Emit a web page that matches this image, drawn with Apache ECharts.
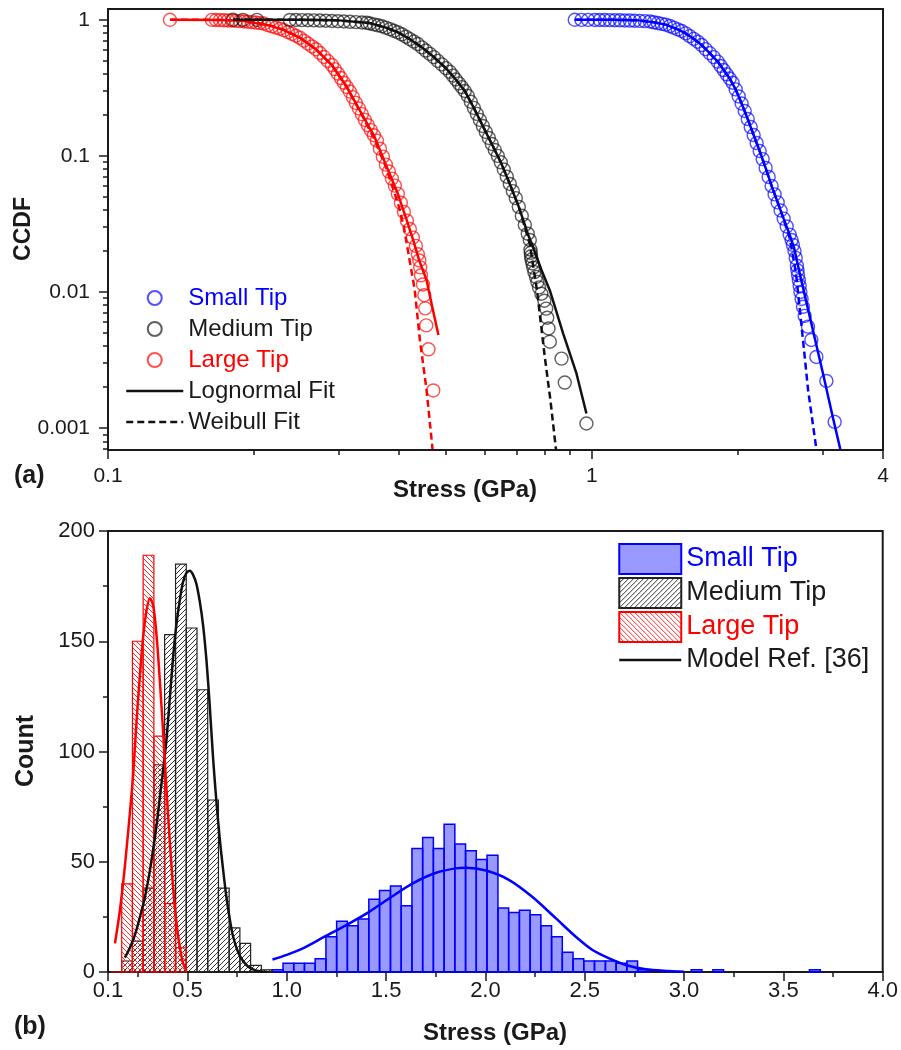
<!DOCTYPE html>
<html><head><meta charset="utf-8">
<script src="https://cdn.jsdelivr.net/npm/echarts@6/dist/echarts.min.js"></script>
<style>html,body{margin:0;padding:0;background:#fff}#c{width:901px;height:1050px}</style>
</head><body><div id="c"></div>
<script>
// ---------- Panel (a): CCDF ----------
const stressTicksTop = [0.1, 1, 4];
const stressMinorTicksTop = [0.2, 0.3, 0.4, 0.5, 0.6, 0.7, 0.8, 0.9, 2, 3];
const ccdfTicks = [0.001, 0.01, 0.1, 1];
const ccdfMinorTicks = [0.0007,0.0008,0.0009,0.002,0.003,0.004,0.005,0.006,0.007,0.008,0.009,0.02,0.03,0.04,0.05,0.06,0.07,0.08,0.09,0.2,0.3,0.4,0.5,0.6,0.7,0.8,0.9];

const largeX = [0.1343,0.1640,0.1672,0.1704,0.1737,0.1770,0.1804,0.1838,0.1874,0.1910,0.1946,0.1984,0.2022,0.2060,0.2100,0.2141,0.2182,0.2224,0.2267,0.2310,0.2355,0.2400,0.2446,0.2493,0.2541,0.2590,0.2640,0.2691,0.2742,0.2795,0.2848,0.2903,0.2944,0.2987,0.3030,0.3073,0.3118,0.3162,0.3208,0.3254,0.3301,0.3348,0.3396,0.3445,0.3494,0.3545,0.3596,0.3648,0.3700,0.3753,0.3807,0.3862,0.3917,0.3974,0.4031,0.4089,0.4148,0.4207,0.4268,0.4329,0.4370,0.4400,0.4420,0.4437,0.4479,0.4506,0.4527,0.4548,0.4597,0.4703];
const largeY = [1.0,0.998,0.996,0.994,0.991,0.988,0.985,0.981,0.977,0.972,0.967,0.961,0.954,0.947,0.938,0.913,0.894,0.876,0.859,0.840,0.813,0.788,0.763,0.737,0.702,0.669,0.637,0.607,0.570,0.533,0.498,0.465,0.434,0.402,0.373,0.345,0.3205,0.297,0.270,0.245,0.223,0.2025,0.184,0.168,0.1545,0.1417,0.1294,0.1129,0.0987,0.0862,0.0767,0.0681,0.0605,0.0526,0.0452,0.0388,0.0334,0.0290,0.0251,0.0218,0.01894,0.01705,0.01515,0.01326,0.01136,0.00947,0.00758,0.00568,0.00379,0.00189];

const mediumX = [0.1813,0.1901,0.2032,0.2377,0.2446,0.2517,0.2590,0.2665,0.2742,0.2821,0.2903,0.2987,0.3073,0.3162,0.3254,0.3348,0.3428,0.3478,0.3545,0.3613,0.3683,0.3753,0.3825,0.3899,0.3974,0.4050,0.4128,0.4207,0.4288,0.4370,0.4455,0.4539,0.4627,0.4716,0.4806,0.4899,0.4993,0.5089,0.5163,0.5236,0.5312,0.5388,0.5465,0.5544,0.5623,0.5705,0.5787,0.5870,0.5954,0.6039,0.6126,0.6214,0.6303,0.6394,0.6486,0.6579,0.6674,0.6770,0.6867,0.6966,0.7066,0.7168,0.7271,0.7375,0.7446,0.7470,0.7480,0.7490,0.7505,0.7540,0.7570,0.7610,0.7670,0.7720,0.7780,0.7870,0.7980,0.8050,0.8090,0.8140,0.8190,0.8660,0.8795,0.9750];
const mediumY = [1.0,0.999,0.998,0.997,0.996,0.994,0.992,0.990,0.987,0.984,0.980,0.976,0.971,0.966,0.961,0.955,0.950,0.939,0.925,0.911,0.896,0.875,0.853,0.830,0.809,0.782,0.751,0.721,0.692,0.663,0.627,0.594,0.562,0.532,0.499,0.470,0.441,0.4147,0.389,0.364,0.341,0.320,0.2996,0.2766,0.2498,0.2254,0.2036,0.1839,0.1659,0.1499,0.1354,0.1223,0.1105,0.1000,0.0897,0.0794,0.0703,0.0622,0.0551,0.0489,0.0422,0.0363,0.0311,0.0268,0.0241,0.0205,0.0194,0.0183,0.0173,0.0162,0.0151,0.0140,0.0129,0.01187,0.0108,0.0097,0.00863,0.00755,0.00647,0.00539,0.00431,0.00324,0.00216,0.00108];

const smallX = [0.9224,0.9522,0.9826,1.0144,1.0387,1.0638,1.0894,1.1157,1.1427,1.1702,1.1983,1.2272,1.2570,1.2873,1.3183,1.343,1.369,1.395,1.422,1.450,1.477,1.506,1.535,1.564,1.594,1.625,1.656,1.688,1.720,1.753,1.787,1.821,1.847,1.874,1.901,1.928,1.956,1.984,2.013,2.041,2.071,2.101,2.131,2.161,2.192,2.224,2.256,2.288,2.321,2.354,2.388,2.423,2.457,2.493,2.529,2.565,2.589,2.605,2.625,2.640,2.655,2.662,2.670,2.680,2.690,2.700,2.715,2.733,2.755,2.799,2.844,2.913,3.055,3.178];
const smallY = [1.0,0.999,0.998,0.997,0.996,0.995,0.994,0.993,0.991,0.989,0.987,0.984,0.981,0.978,0.9716,0.958,0.946,0.933,0.921,0.899,0.875,0.850,0.827,0.794,0.758,0.724,0.690,0.652,0.609,0.569,0.532,0.493,0.458,0.427,0.3976,0.3702,0.3447,0.3078,0.2733,0.2424,0.2136,0.1865,0.1628,0.1422,0.1242,0.1085,0.0947,0.0815,0.0700,0.0601,0.0521,0.0455,0.0397,0.0346,0.0303,0.0264,0.0241,0.0222,0.0200,0.0178,0.0156,0.0144,0.0133,0.0122,0.0111,0.0100,0.00889,0.00778,0.00667,0.00556,0.00444,0.00333,0.00222,0.00111];

const largeLognormal = [[0.1343,1.0],[0.17,0.998],[0.19,0.985],[0.2141,0.913],[0.2310,0.840],[0.2493,0.737],[0.2691,0.607],[0.2903,0.465],[0.3118,0.3205],[0.3348,0.2025],[0.3545,0.1417],[0.3753,0.0862],[0.3974,0.0526],[0.4148,0.0334],[0.4273,0.0241],[0.44,0.0170],[0.4555,0.01225],[0.468,0.0078],[0.482,0.00483]];
const largeWeibull = [[0.1343,1.0],[0.17,0.998],[0.19,0.985],[0.2141,0.92],[0.2310,0.845],[0.2493,0.74],[0.2691,0.607],[0.2903,0.462],[0.3118,0.318],[0.3348,0.200],[0.3545,0.135],[0.3753,0.083],[0.3974,0.045],[0.4089,0.030],[0.4166,0.0204],[0.4305,0.0104],[0.4413,0.00444],[0.4555,0.00191],[0.4687,0.0007]];
const mediumLognormal = [[0.1813,1.0],[0.25,0.9995],[0.30,0.99],[0.3478,0.945],[0.3753,0.876],[0.3974,0.81],[0.4207,0.72],[0.4455,0.627],[0.4716,0.532],[0.4993,0.441],[0.5236,0.364],[0.5465,0.30],[0.5705,0.2254],[0.5954,0.1659],[0.6214,0.1223],[0.6486,0.0897],[0.6770,0.0622],[0.7066,0.0422],[0.7375,0.0268],[0.7566,0.0212],[0.7872,0.0145],[0.8188,0.0103],[0.8725,0.00497],[0.9298,0.00252],[0.975,0.00128]];
const mediumWeibull = [[0.1813,1.0],[0.25,0.9995],[0.30,0.99],[0.3478,0.945],[0.3753,0.876],[0.3974,0.81],[0.4207,0.72],[0.4455,0.627],[0.4716,0.532],[0.4993,0.441],[0.5236,0.364],[0.5465,0.30],[0.5705,0.2254],[0.5954,0.1659],[0.6214,0.1223],[0.6486,0.0897],[0.6770,0.0622],[0.7066,0.0422],[0.7271,0.030],[0.7446,0.0225],[0.7705,0.0103],[0.7996,0.00334],[0.8215,0.0016],[0.8433,0.0007]];
const smallLognormal = [[0.9224,1.0],[1.1,0.9995],[1.25,0.99],[1.343,0.958],[1.422,0.921],[1.506,0.85],[1.564,0.794],[1.625,0.724],[1.688,0.652],[1.753,0.569],[1.821,0.493],[1.874,0.427],[1.928,0.3702],[1.984,0.3078],[2.041,0.2424],[2.101,0.1865],[2.161,0.1422],[2.224,0.1085],[2.288,0.0815],[2.354,0.0601],[2.423,0.0455],[2.493,0.0346],[2.565,0.0264],[2.62,0.0210],[2.691,0.0137],[2.844,0.00588],[3.006,0.00252],[3.152,0.00119],[3.264,0.0007]];
const smallWeibull = [[0.9224,1.0],[1.1,0.9995],[1.25,0.99],[1.343,0.958],[1.422,0.921],[1.506,0.85],[1.564,0.794],[1.625,0.724],[1.688,0.652],[1.753,0.569],[1.821,0.493],[1.874,0.427],[1.928,0.3702],[1.984,0.3078],[2.041,0.2424],[2.101,0.1865],[2.161,0.1422],[2.224,0.1085],[2.288,0.0815],[2.354,0.0601],[2.423,0.0455],[2.493,0.0340],[2.565,0.0250],[2.644,0.0137],[2.733,0.00445],[2.80,0.00191],[2.913,0.0007]];

// ---------- Panel (b): histograms ----------
const stressTicksBottom = [0.1, 0.5, 1.0, 1.5, 2.0, 2.5, 3.0, 3.5, 4.0];
const stressMinorTicksBottom = [0.25, 0.75, 1.25, 1.75, 2.25, 2.75, 3.25, 3.75];
const binEdges = [0.115,0.169,0.223,0.277,0.331,0.385,0.440,0.494,0.548,0.602,0.656,0.710,0.764,0.818,0.872,0.926,0.981,1.035,1.089,1.143,1.197,1.251,1.305,1.359,1.413,1.467,1.522,1.576,1.630,1.684,1.738,1.792,1.846,1.900,1.954,2.008,2.063,2.117,2.171,2.225,2.279,2.333,2.387,2.441,2.495,2.549,2.604,2.658,2.712,2.766,2.820,2.874,2.928,2.982,3.036,3.090,3.145,3.199,3.253,3.307,3.361,3.415,3.469,3.523,3.577,3.631,3.686,3.740];
const largeCounts = [0,40,150,189,107,31,11];
const mediumCounts = [null,5,14,38,94,153,185,156,128,78,38,20,13,3,1];
const smallCounts = [null,null,null,null,null,null,null,null,null,null,null,null,null,null,null,1,4,4,4,6,16,23,21,24,33,37,39,30,56,61,56,67,58,55,51,53,29,27,28,26,21,16,9,6,5,5,5,4,5,1,null,null,null,null,1,null,1,null,null,null,null,null,null,null,null,1];

const smallModel = [[0.928,5.7],[1.0,7.8],[1.081,10.7],[1.19,16],[1.30,21.3],[1.417,27.4],[1.526,34],[1.634,40.2],[1.752,45],[1.85,47],[1.902,47.3],[2.003,46],[2.12,41.7],[2.237,34],[2.355,24.3],[2.455,16],[2.539,10],[2.623,6.2],[2.706,3.2],[2.807,1.2],[2.924,0.4],[3.0,0.1]];
const mediumModel = [[0.185,6.5],[0.21,11],[0.236,17],[0.261,25],[0.286,34],[0.311,46],[0.345,67],[0.362,80],[0.378,92],[0.395,106],[0.412,125],[0.428,143],[0.445,158],[0.462,169],[0.478,177],[0.495,181],[0.512,182],[0.529,180],[0.545,176],[0.562,168],[0.579,157],[0.596,141],[0.612,121],[0.629,97],[0.646,77],[0.663,60],[0.68,46],[0.696,34],[0.713,24],[0.73,16],[0.755,9],[0.78,5],[0.805,2.5],[0.83,1.2],[0.86,0.4],[0.9,0]];
const largeModel = [[0.135,13],[0.16,28],[0.185,48],[0.21,72],[0.227,90],[0.244,114],[0.261,135],[0.277,152],[0.294,164],[0.311,169.5],[0.328,166],[0.345,152],[0.361,132],[0.378,108],[0.395,82],[0.412,58],[0.428,38],[0.445,22],[0.462,11],[0.478,4],[0.495,0.8]];

// ---------- build ----------
const FONT = '"Liberation Sans", Arial, Helvetica, sans-serif';
const INK = '#1a1a1a';
function zip(xs, ys) { return xs.map((x, i) => [x, ys[i]]); }
function hatch(color, p, dir) {
  const c = document.createElement('canvas'); c.width = p; c.height = p;
  const g = c.getContext('2d'); g.strokeStyle = color; g.lineWidth = 1;
  g.beginPath();
  if (dir === '/') { g.moveTo(0, p); g.lineTo(p, 0); g.moveTo(-1, 1); g.lineTo(1, -1); g.moveTo(p - 1, p + 1); g.lineTo(p + 1, p - 1); }
  else { g.moveTo(0, 0); g.lineTo(p, p); g.moveTo(p - 1, -1); g.lineTo(p + 1, 1); g.moveTo(-1, p - 1); g.lineTo(1, p + 1); }
  g.stroke();
  return { image: c, repeat: 'repeat' };
}
const blackHatch = hatch('#333', 5, '/');
const redHatch = hatch('#ff2a2a', 5, '\\');

function histData(counts) {
  const out = [];
  counts.forEach((c, i) => { if (c !== null && c !== undefined) out.push([binEdges[i], binEdges[i + 1], c]); });
  return out;
}
function histSeries(name, counts, fill, stroke, lw) {
  return {
    type: 'custom', name, xAxisIndex: 2, yAxisIndex: 2, data: histData(counts),
    encode: { x: [0, 1], y: 2 },
    itemStyle: { color: fill, borderColor: stroke, borderWidth: lw },
    renderItem(params, api) {
      const p0 = api.coord([api.value(0), api.value(2)]);
      const p1 = api.coord([api.value(1), 0]);
      return { type: 'rect', shape: { x: p0[0], y: p0[1], width: p1[0] - p0[0], height: p1[1] - p0[1] },
        style: { fill: fill, stroke: stroke, lineWidth: lw } };
    }
  };
}
function ring(name, xs, ys, col) {
  return { type: 'scatter', name, xAxisIndex: 0, yAxisIndex: 0, data: zip(xs, ys), symbol: 'circle', symbolSize: 13,
    itemStyle: { color: 'rgba(0,0,0,0)', borderColor: col, borderWidth: 1.4 }, z: 2 };
}
function fit(name, data, col, dashed) {
  return { type: 'line', name, xAxisIndex: 0, yAxisIndex: 0, data, symbol: 'none',
    lineStyle: { color: col, width: 2.5, type: dashed ? [7, 4] : 'solid' }, itemStyle: { color: col }, z: 3 };
}
function model(name, data, col) {
  return { type: 'line', name, xAxisIndex: 2, yAxisIndex: 2, data, symbol: 'none', smooth: 0.3,
    lineStyle: { color: col, width: 2.5 }, itemStyle: { color: col }, z: 4 };
}
const axLine = { show: true, lineStyle: { color: INK, width: 2 } };
const tickStyle = { color: INK, width: 1.5 };
const lbl = (size, margin, extra) => Object.assign({ fontSize: size, color: INK, fontFamily: FONT, margin }, extra || {});
const noSymbol = { opacity: 0 };

const option = {
  animation: false,
  backgroundColor: '#fff',
  grid: [
    { left: 108, top: 9, right: 18, height: 441, show: true, borderColor: INK, borderWidth: 2 },
    { left: 108, top: 531, right: 18, height: 441, show: true, borderColor: INK, borderWidth: 2 }
  ],
  xAxis: [
    { type: 'log', gridIndex: 0, min: 0.1, max: 4, position: 'bottom', axisLine: axLine,
      axisTick: { show: true, length: 9, lineStyle: tickStyle, customValues: stressTicksTop },
      axisLabel: lbl(21, 16, { customValues: stressTicksTop, formatter: v => String(v) }), splitLine: { show: false } },
    { type: 'log', gridIndex: 0, min: 0.1, max: 4, position: 'bottom', axisLine: { show: false },
      axisTick: { show: true, length: 5, lineStyle: tickStyle, customValues: stressMinorTicksTop },
      axisLabel: { show: false }, splitLine: { show: false } },
    { type: 'value', gridIndex: 1, min: 0.1, max: 4, position: 'bottom', axisLine: axLine,
      axisTick: { show: true, length: 9, lineStyle: tickStyle, customValues: stressTicksBottom },
      axisLabel: lbl(22, 8, { customValues: stressTicksBottom, formatter: v => v.toFixed(1) }), splitLine: { show: false } },
    { type: 'value', gridIndex: 1, min: 0.1, max: 4, position: 'bottom', axisLine: { show: false },
      axisTick: { show: true, length: 5, lineStyle: tickStyle, customValues: stressMinorTicksBottom },
      axisLabel: { show: false }, splitLine: { show: false } }
  ],
  yAxis: [
    { type: 'log', gridIndex: 0, min: 0.00069, max: 1.2, position: 'left', axisLine: axLine,
      axisTick: { show: true, length: 9, lineStyle: tickStyle, customValues: ccdfTicks },
      axisLabel: lbl(21, 18, { customValues: ccdfTicks, formatter: v => String(v) }), splitLine: { show: false } },
    { type: 'log', gridIndex: 0, min: 0.00069, max: 1.2, position: 'left', axisLine: { show: false },
      axisTick: { show: true, length: 5, lineStyle: tickStyle, customValues: ccdfMinorTicks },
      axisLabel: { show: false }, splitLine: { show: false } },
    { type: 'value', gridIndex: 1, min: 0, max: 200, interval: 50, position: 'left', axisLine: axLine,
      axisTick: { show: true, length: 9, lineStyle: tickStyle },
      minorTick: { show: true, splitNumber: 2, length: 5, lineStyle: tickStyle },
      axisLabel: lbl(22, 13), splitLine: { show: false } }
  ],
  legend: [
    { left: 125, top: 286, padding: 0, orient: 'vertical', itemWidth: 57, itemHeight: 14, itemGap: 7, selectedMode: false,
      textStyle: { fontSize: 24, fontFamily: FONT, color: INK, lineHeight: 24 },
      data: [
        { name: 'Small Tip', textStyle: { color: '#0000ff' } },
        { name: 'Medium Tip', textStyle: { color: INK } },
        { name: 'Large Tip', textStyle: { color: '#ff0000' } },
        { name: 'Lognormal Fit', itemStyle: noSymbol, lineStyle: { width: 2.5 } },
        { name: 'Weibull Fit', itemStyle: noSymbol, lineStyle: { width: 2.5 } }
      ] },
    { left: 618, top: 543, padding: 0, orient: 'vertical', itemWidth: 62, itemHeight: 30, itemGap: 2, selectedMode: false,
      formatter: n => n.replace('h:', ''),
      textStyle: { fontSize: 27, fontFamily: FONT, color: INK, lineHeight: 30 },
      data: [
        { name: 'h:Small Tip', icon: 'rect', textStyle: { color: '#0000ff' } },
        { name: 'h:Medium Tip', icon: 'rect', textStyle: { color: INK } },
        { name: 'h:Large Tip', icon: 'rect', textStyle: { color: '#ff0000' } },
        { name: 'Model Ref. [36]', itemStyle: noSymbol, lineStyle: { width: 2.5 } }
      ] }
  ],
  graphic: [
    { type: 'text', x: 24, y: 229, rotation: Math.PI / 2, style: { text: 'CCDF', fontSize: 23, fontWeight: 'bold', fontFamily: FONT, fill: INK, align: 'center', verticalAlign: 'middle' } },
    { type: 'text', x: 465, y: 490, style: { text: 'Stress (GPa)', fontSize: 24, fontWeight: 'bold', fontFamily: FONT, fill: INK, align: 'center', verticalAlign: 'middle' } },
    { type: 'text', x: 14, y: 476, style: { text: '(a)', fontSize: 25, fontWeight: 'bold', fontFamily: FONT, fill: INK, align: 'left', verticalAlign: 'middle' } },
    { type: 'text', x: 26, y: 751, rotation: Math.PI / 2, style: { text: 'Count', fontSize: 25, fontWeight: 'bold', fontFamily: FONT, fill: INK, align: 'center', verticalAlign: 'middle' } },
    { type: 'text', x: 495, y: 1033, style: { text: 'Stress (GPa)', fontSize: 24, fontWeight: 'bold', fontFamily: FONT, fill: INK, align: 'center', verticalAlign: 'middle' } },
    { type: 'text', x: 14, y: 1027, style: { text: '(b)', fontSize: 25, fontWeight: 'bold', fontFamily: FONT, fill: INK, align: 'left', verticalAlign: 'middle' } }
  ],
  series: [
    ring('Large Tip', largeX, largeY, 'rgba(255,0,0,0.85)'),
    ring('Medium Tip', mediumX, mediumY, 'rgba(20,20,20,0.85)'),
    ring('Small Tip', smallX, smallY, 'rgba(0,0,255,0.85)'),
    fit('lgLog', largeLognormal, '#ff0000', false),
    fit('lgWei', largeWeibull, '#ff0000', true),
    fit('Lognormal Fit', mediumLognormal, '#111', false),
    fit('Weibull Fit', mediumWeibull, '#111', true),
    fit('smLog', smallLognormal, '#0000ff', false),
    fit('smWei', smallWeibull, '#0000ff', true),
    histSeries('h:Small Tip', smallCounts, 'rgba(0,0,255,0.4)', '#0000ff', 1.5),
    histSeries('h:Medium Tip', mediumCounts, blackHatch, '#222', 1.2),
    histSeries('h:Large Tip', largeCounts, redHatch, '#ff0000', 1.2),
    model('mSmall', smallModel, '#0000ff'),
    model('Model Ref. [36]', mediumModel, '#111'),
    model('mLarge', largeModel, '#ff0000')
  ]
};
const chart = echarts.init(document.getElementById('c'), null, { renderer: 'canvas' });
chart.setOption(option);
</script></body></html>
